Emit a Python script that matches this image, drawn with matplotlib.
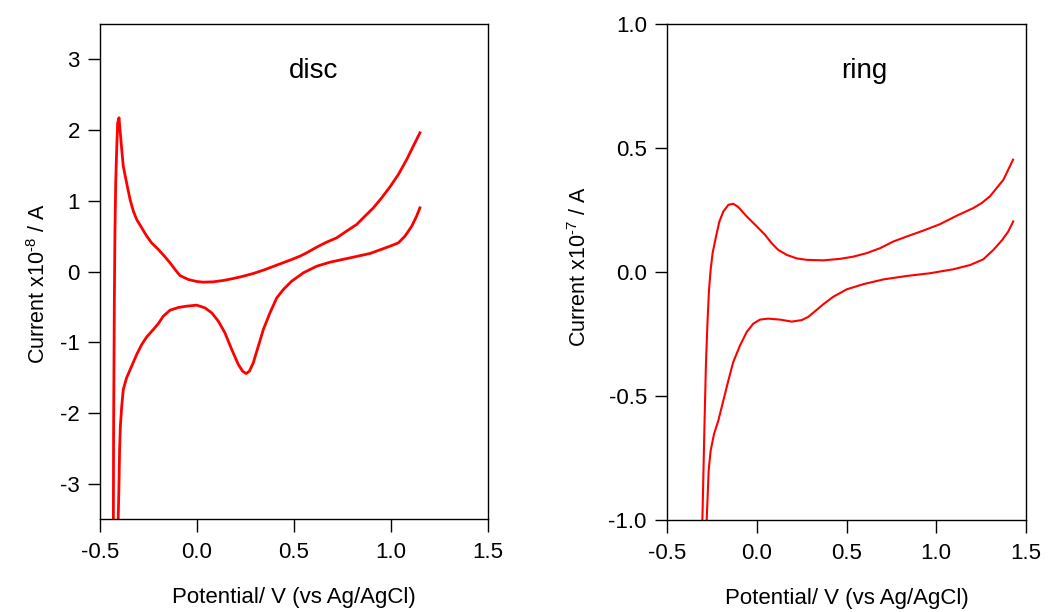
import numpy as np
import matplotlib
matplotlib.use("Agg")
import matplotlib.pyplot as plt

plt.rcParams["font.family"] = ["Liberation Sans", "DejaVu Sans"]
plt.rcParams["mathtext.fontset"] = "custom"
plt.rcParams["mathtext.rm"] = "Liberation Sans"
plt.rcParams["mathtext.it"] = "Liberation Sans"
plt.rcParams["axes.unicode_minus"] = False

# disc current (x1e-8 A): one sweep, from the upper end at 1.15 V round the loop
# (the turn below -3.5 is off scale) back to the lower end at 1.15 V
disc_v = [1.149, 1.115, 1.081, 1.038, 0.995, 0.952, 0.909, 0.857, 0.823, 0.771,
          0.720, 0.668, 0.617, 0.565, 0.531, 0.479, 0.411, 0.342, 0.290, 0.239,
          0.187, 0.136, 0.084, 0.033, -0.002, -0.045, -0.088, -0.113, -0.139,
          -0.165, -0.199, -0.234, -0.259, -0.285, -0.311, -0.328, -0.345, -0.363,
          -0.380, -0.388, -0.397, -0.402, -0.409, -0.414, -0.419, -0.423, -0.426,
          -0.428, -0.430, -0.431, -0.432, -0.420, -0.407,
          -0.406, -0.402, -0.399, -0.395, -0.388, -0.380, -0.363, -0.337, -0.311,
          -0.285, -0.259, -0.225, -0.199, -0.174, -0.139, -0.096, -0.053, -0.002,
          0.041, 0.076, 0.110, 0.144, 0.179, 0.213, 0.235, 0.253, 0.270, 0.290,
          0.316, 0.342, 0.376, 0.411, 0.445, 0.488, 0.548, 0.617, 0.686, 0.789,
          0.892, 0.995, 1.038, 1.072, 1.107, 1.132, 1.149]
disc_i = [1.961, 1.773, 1.584, 1.372, 1.198, 1.042, 0.900, 0.759, 0.665, 0.571,
          0.476, 0.415, 0.344, 0.264, 0.217, 0.160, 0.090, 0.019, -0.028, -0.066,
          -0.099, -0.127, -0.146, -0.151, -0.141, -0.113, -0.057, 0.028, 0.123,
          0.208, 0.311, 0.405, 0.500, 0.618, 0.736, 0.853, 1.018, 1.254,
          1.490, 1.726, 2.008, 2.174, 2.100, 1.726, 1.254, 0.547, -0.396,
          -1.339, -2.282, -3.484, -4.5, -4.6, -4.5,
          -3.484, -2.989, -2.518, -2.188, -1.905, -1.669, -1.504, -1.339, -1.174,
          -1.033, -0.924, -0.820, -0.736, -0.632, -0.547, -0.509, -0.490, -0.476,
          -0.514, -0.585, -0.702, -0.868, -1.103, -1.315, -1.410, -1.443, -1.410, -1.292,
          -1.056, -0.820, -0.585, -0.373, -0.255, -0.137, -0.019, 0.075, 0.132, 0.193,
          0.255, 0.358, 0.405, 0.500, 0.641, 0.783, 0.900]

# ring current (x1e-7 A)
ring_v = [1.428, 1.374, 1.337, 1.299, 1.253, 1.207, 1.114, 1.021, 0.928, 0.835,
          0.761, 0.687, 0.612, 0.538, 0.464, 0.371, 0.278, 0.222, 0.167, 0.120,
          0.083, 0.046, 0.000, -0.056, -0.103, -0.131, -0.158, -0.186, -0.208,
          -0.227, -0.246, -0.257, -0.266, -0.274, -0.283, -0.292, -0.298, -0.303,
          -0.304, -0.290, -0.280,
          -0.279, -0.274, -0.268, -0.257, -0.238, -0.214, -0.186, -0.158, -0.131,
          -0.093, -0.056, -0.019, 0.018, 0.064, 0.130, 0.195, 0.250, 0.287, 0.325,
          0.371, 0.426, 0.501, 0.594, 0.705, 0.835, 0.965, 1.095, 1.188, 1.262,
          1.318, 1.365, 1.401, 1.429]
ring_i = [0.453, 0.372, 0.339, 0.305, 0.278, 0.258, 0.227, 0.193, 0.167, 0.143,
          0.123, 0.096, 0.076, 0.062, 0.053, 0.047, 0.049, 0.055, 0.069, 0.089,
          0.116, 0.150, 0.184, 0.224, 0.262, 0.275, 0.271, 0.244, 0.204,
          0.143, 0.076, 0.008, -0.073, -0.194, -0.370, -0.640, -0.842, -1.004,
          -1.10, -1.12, -1.10,
          -1.004, -0.910, -0.802, -0.721, -0.653, -0.599, -0.518, -0.437, -0.363,
          -0.296, -0.242, -0.208, -0.192, -0.188, -0.192, -0.200, -0.194, -0.181, -0.158,
          -0.130, -0.100, -0.070, -0.049, -0.030, -0.016, -0.005, 0.011, 0.028, 0.051,
          0.089, 0.127, 0.163, 0.204]

xticks = [-0.5, 0.0, 0.5, 1.0, 1.5]
disc_yticks = [-3, -2, -1, 0, 1, 2, 3]
ring_yticks = [-1.0, -0.5, 0.0, 0.5, 1.0]

fig = plt.figure(figsize=(10.49, 6.12), dpi=100)
ax1 = fig.add_axes([100 / 1049, 93 / 612, 388 / 1049, 495 / 612])
ax2 = fig.add_axes([667 / 1049, 92 / 612, 359 / 1049, 496 / 612])

ax1.plot(disc_v, disc_i, color="red", lw=2.0, solid_joinstyle="round")
ax2.plot(ring_v, ring_i, color="red", lw=1.5, solid_joinstyle="round")

ax1.set_ylim(-3.5, 3.5)
ax1.set_yticks(disc_yticks)
ax1.set_yticklabels([str(t) for t in disc_yticks])
ax2.set_ylim(-1.0, 1.0)
ax2.set_yticks(ring_yticks)
ax2.set_yticklabels(["%.1f" % t for t in ring_yticks])

for ax, name, exp, lx, ly in [(ax1, "disc", 8, -0.130, 0.475),
                              (ax2, "ring", 7, -0.213, 0.51)]:
    ax.set_xlim(-0.5, 1.5)
    ax.set_xticks(xticks)
    ax.set_xticklabels(["%.1f" % t for t in xticks])
    for s in ax.spines.values():
        s.set_linewidth(1.0)
    ax.tick_params(axis="both", direction="out", length=9, width=1.0,
                   labelsize=16, top=False, right=False)
    ax.tick_params(axis="x", pad=7.5)
    ax.tick_params(axis="y", pad=5.5)
    ax.set_xlabel("Potential/ V (vs Ag/AgCl)", fontsize=16)
    ax.xaxis.set_label_coords(0.5, -0.138)
    ax.set_ylabel("Current x10$^{\u2010%d}$ / A" % exp, fontsize=15.5)
    ax.yaxis.set_label_coords(lx, ly)
    ax.text(0.55, 0.891, name, transform=ax.transAxes, ha="center",
            va="baseline", fontsize=20)

fig.savefig("out.png", dpi=100)
